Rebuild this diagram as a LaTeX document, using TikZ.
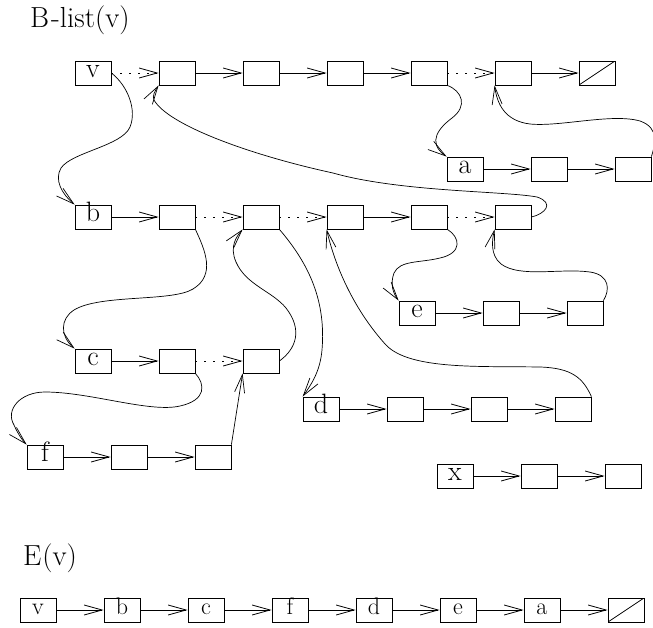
\documentclass[tikz,border=0pt]{standalone}
\usetikzlibrary{arrows.meta}
\newcommand\lblfont{\fontsize{28}{28}\selectfont}
\newcommand\elblfont{\fontsize{24}{24}\selectfont}
\newcommand\ttlfont{\fontsize{29}{29}\selectfont}
\tikzset{
  box/.style={draw, line width=0.8pt, minimum width=36pt, minimum height=24pt,
    inner sep=0pt, text height=9pt, text depth=0pt, font=\lblfont},
  ebox/.style={box, font=\elblfont},
  nilbox/.style={box, path picture={\draw[line width=0.8pt]
    (path picture bounding box.south west) -- (path picture bounding box.north east);}},
  arr/.style={-{Straight Barb[length=18pt,width=10pt]}, line width=0.8pt},
  dotarr/.style={arr, dash pattern=on 1.5pt off 7.5pt},
  crv/.style={arr, line width=0.7pt},
  ttl/.style={anchor=base west, inner sep=0pt, font=\ttlfont},
}
\begin{document}
\begin{tikzpicture}[x=1pt, y=-1pt]
\useasboundingbox (0,0) rectangle (653,627);

\node[ttl] (title1) at (30,27) {B\kern2pt-list(v)};
\node[ttl] (title2) at (23,565) {E\kern1pt(v)};

% top row
\node[box] (t1) at (93,73) {v};
\node[box] (t2) at (177,73) {};
\node[box] (t3) at (261,73) {};
\node[box] (t4) at (345,73) {};
\node[box] (t5) at (429,73) {};
\node[box] (t6) at (513,73) {};
\node[nilbox] (t7) at (597,73) {};
\draw[dotarr] (t1.east) -- (t2.west);
\draw[arr] (t2.east) -- (t3.west);
\draw[arr] (t3.east) -- (t4.west);
\draw[arr] (t4.east) -- (t5.west);
\draw[dotarr] (t5.east) -- (t6.west);
\draw[arr] (t6.east) -- (t7.west);

% row a
\node[box] (a1) at (465,169) {a};
\node[box] (a2) at (549,169) {};
\node[box] (a3) at (633,169) {};
\draw[arr] (a1.east) -- (a2.west);
\draw[arr] (a2.east) -- (a3.west);

% row b
\node[box] (b1) at (93,217) {b};
\node[box] (b2) at (177,217) {};
\node[box] (b3) at (261,217) {};
\node[box] (b4) at (345,217) {};
\node[box] (b5) at (429,217) {};
\node[box] (b6) at (513,217) {};
\draw[arr] (b1.east) -- (b2.west);
\draw[dotarr] (b2.east) -- (b3.west);
\draw[dotarr] (b3.east) -- (b4.west);
\draw[arr] (b4.east) -- (b5.west);
\draw[dotarr] (b5.east) -- (b6.west);

% row e
\node[box] (e1) at (417,313) {e};
\node[box] (e2) at (501,313) {};
\node[box] (e3) at (585,313) {};
\draw[arr] (e1.east) -- (e2.west);
\draw[arr] (e2.east) -- (e3.west);

% row c
\node[box] (c1) at (93,361) {c};
\node[box] (c2) at (177,361) {};
\node[box] (c3) at (261,361) {};
\draw[arr] (c1.east) -- (c2.west);
\draw[dotarr] (c2.east) -- (c3.west);

% row d
\node[box] (d1) at (321,409) {d};
\node[box] (d2) at (405,409) {};
\node[box] (d3) at (489,409) {};
\node[box] (d4) at (573,409) {};
\draw[arr] (d1.east) -- (d2.west);
\draw[arr] (d2.east) -- (d3.west);
\draw[arr] (d3.east) -- (d4.west);

% row f
\node[box] (f1) at (45,457) {f};
\node[box] (f2) at (129,457) {};
\node[box] (f3) at (213,457) {};
\draw[arr] (f1.east) -- (f2.west);
\draw[arr] (f2.east) -- (f3.west);

% row x
\node[box] (x1) at (455,476) {x};
\node[box] (x2) at (539,476) {};
\node[box] (x3) at (623,476) {};
\draw[arr] (x1.east) -- (x2.west);
\draw[arr] (x2.east) -- (x3.west);

% E(v) row
\node[ebox] (ev) at (38,610) {v};
\node[ebox] (eb) at (122,610) {b};
\node[ebox] (ec) at (206,610) {c};
\node[ebox] (ef) at (290,610) {f};
\node[ebox] (ed) at (374,610) {d};
\node[ebox] (ee) at (458,610) {e};
\node[ebox] (ea) at (542,610) {a};
\node[nilbox] (en) at (626,610) {};
\draw[arr] (ev.east) -- (eb.west);
\draw[arr] (eb.east) -- (ec.west);
\draw[arr] (ec.east) -- (ef.west);
\draw[arr] (ef.east) -- (ed.west);
\draw[arr] (ed.east) -- (ee.west);
\draw[arr] (ee.east) -- (ea.west);
\draw[arr] (ea.east) -- (en.west);

% curved links
\draw[crv] (t1.east) .. controls (128,86) and (137,110) .. (130,127)
  .. controls (122,146) and (72,152) .. (61,168)
  .. controls (54,180) and (62,194) .. (b1.north west);
\draw[crv] (b6.east) .. controls (545,214) and (555,203) .. (537,197)
  .. controls (505,191) and (400,192) .. (333,173)
  .. controls (250,155) and (168,125) .. (154,100)
  .. controls (152,96) and (155,91) .. (t2.south west);
\draw[crv] (t5.south east) .. controls (462,91) and (468,106) .. (452,118)
  .. controls (440,127) and (426,142) .. (a1.north west);
\draw[crv] (a3.north east) .. controls (655,145) and (660,128) .. (640,121)
  .. controls (612,113) and (560,127) .. (530,124)
  .. controls (505,121) and (497,104) .. (t6.south west);
\draw[crv] (b2.south east) .. controls (205,250) and (216,275) .. (193,289)
  .. controls (172,302) and (100,294) .. (74,310)
  .. controls (60,319) and (60,336) .. (c1.north west);
\draw[crv] (c3.east) .. controls (296,349) and (303,330) .. (286,308)
  .. controls (272,291) and (246,285) .. (236,262)
  .. controls (229,246) and (237,236) .. (b3.south west);
\draw[crv] (b3.south east) .. controls (310,265) and (326,302) .. (322,350)
  .. controls (320,372) and (311,385) .. (d1.north west);
\draw[crv] (d4.north east) .. controls (583,378) and (572,368) .. (540,367)
  .. controls (480,366) and (410,370) .. (386,345)
  .. controls (356,312) and (336,270) .. (b4.south west);
\draw[crv] (b5.south east) .. controls (460,237) and (463,253) .. (440,258)
  .. controls (420,263) and (400,260) .. (394,273)
  .. controls (390,284) and (393,293) .. (e1.north west);
\draw[crv] (e3.north east) .. controls (610,290) and (610,275) .. (590,272)
  .. controls (560,268) and (520,278) .. (501,264)
  .. controls (490,255) and (492,240) .. (b6.south west);
\draw[crv] (c2.south east) .. controls (205,384) and (207,400) .. (180,406)
  .. controls (150,413) and (90,392) .. (45,392)
  .. controls (20,392) and (5,410) .. (14,425)
  .. controls (17,432) and (22,440) .. (f1.north west);
\draw[crv] (f3.north east) -- (c3.south west);
\end{tikzpicture}
\end{document}
